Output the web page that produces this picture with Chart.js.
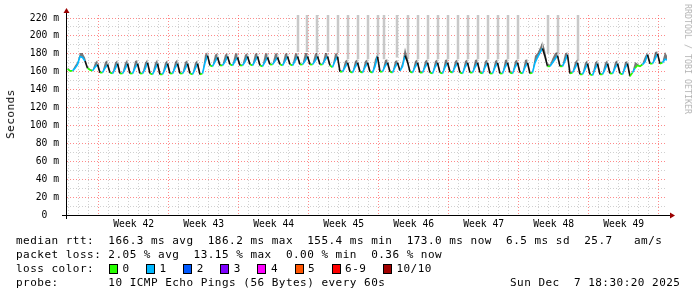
<!DOCTYPE html>
<html>
<head>
<meta charset="utf-8">
<script src="https://cdn.jsdelivr.net/npm/chart.js@4"></script>
<style>
  body { margin: 0; background: #fff; }
  #wrap { position: relative; width: 697px; height: 297px; }
  #wrap canvas { position: absolute; left: 0; top: 0; }
  .t { position: absolute; font-family: 'DejaVu Sans Mono', monospace; font-size: 11px; letter-spacing: 0.48px;
       white-space: pre; line-height: 14px; color: #000; }
  .sw { position: absolute; width: 7px; height: 8px; border: 1px solid #000; }
</style>
</head>
<body>
<div id="wrap">
  <canvas id="c" width="697" height="297"></canvas>
  <div class="t" style="left:11px;top:114px;transform:translate(-50%,-50%) rotate(-90deg)">Seconds</div>
  <div class="t" style="left:688px;top:59px;font-size:8.3px;letter-spacing:0;color:#b4b4b4;transform:translate(-50%,-50%) rotate(90deg)">RRDTOOL / TOBI OETIKER</div>
  <div class="t" style="left:16px;top:234px">median rtt:  166.3 ms avg  186.2 ms max  155.4 ms min  173.0 ms now  6.5 ms sd  25.7   am/s</div>
  <div class="t" style="left:16px;top:248px">packet loss: 2.05 % avg  13.15 % max  0.00 % min  0.36 % now</div>
  <div class="t" style="left:16px;top:262px">loss color:</div>
  <div class="t" style="left:16px;top:276px">probe:       10 ICMP Echo Pings (56 Bytes) every 60s</div>
  <div class="t" style="left:510px;top:276px">Sun Dec  7 18:30:20 2025</div>
</div>
<script>
// samples every 6 hours, x in days from the left edge of the graph
const sampleStart = 0.05;
const sampleStep = 0.25;

// median rtt in ms, one row per day
const medianMs = [
  163,161,161,164,  168,177,176,172,  164,162,161,165,  168,159,159,164,
  168,159,158,163,  169,158,158,163,  169,158,158,164,  169,158,158,163,
  170,158,157,163,  169,157,157,163,  169,158,158,164,  169,158,158,163,
  169,158,157,163,  169,157,158,170,  178,167,166,171,  176,167,167,171,
  177,168,167,172,  176,167,167,171,  177,168,167,172,  177,167,166,171,
  176,168,168,172,  176,168,167,172,  177,168,167,172,  177,168,168,172,
  177,168,168,172,  177,168,168,173,  177,167,165,172,  177,160,160,165,
  170,160,159,165,  170,160,159,165,  170,160,159,166,  177,160,160,166,
  170,160,159,165,  170,161,166,178,  171,160,159,165,  170,159,159,165,
  170,159,158,165,  170,159,158,165,  170,160,159,165,  170,159,158,165,
  170,159,159,165,  170,159,158,165,  170,158,158,165,  170,158,158,165,
  170,159,158,165,  170,159,158,165,  170,158,159,170,  176,181,186,177,
  166,166,170,174,  178,166,166,172,  179,158,159,164,  170,157,157,163,
  169,157,156,163,  169,157,157,163,  169,158,158,164,  169,158,157,164,
  169,155,159,164,  167,166,168,171,  179,169,169,174,  180,169,170,174,
  173
];

// how far the slowest pings of each sample reach above the median (ms)
const smokeUpMs = [
  2,1,1,3,  3,4,5,4,  2,1,1,5,  5,1,1,7,
  5,1,1,7,  4,1,1,7,  5,1,1,8,  4,1,1,7,
  4,1,1,7,  5,1,1,7,  4,1,1,7,  5,1,1,8,
  4,1,1,7,  4,1,1,9,  4,1,1,8,  5,1,1,8,
  4,1,1,8,  5,1,1,8,  4,1,1,8,  4,1,1,9,
  5,1,1,8,  5,1,1,8,  4,1,1,8,  4,1,1,9,
  4,1,1,8,  5,1,1,8,  4,1,1,8,  4,2,1,7,
  4,1,1,7,  4,1,1,7,  4,1,1,8,  3,1,1,7,
  4,1,1,7,  3,1,5,9,  4,1,1,7,  4,1,1,7,
  4,1,1,7,  4,1,1,8,  4,1,1,7,  4,1,1,7,
  4,1,1,8,  4,1,1,7,  4,1,1,7,  4,1,1,8,
  4,1,1,7,  4,1,1,8,  4,1,2,8,  5,6,8,7,
  3,2,5,7,  4,1,2,8,  3,1,1,7,  4,1,1,7,
  4,1,1,7,  4,1,1,7,  4,1,1,7,  4,1,1,7,
  3,1,1,7,  2,1,2,6,  3,1,1,8,  3,1,2,8,
  4
];

// lost pings per sample (of 10)
const lossCount = [
  1,0,0,1,  1,1,1,1,  1,0,0,1,  1,0,0,1,
  1,0,0,1,  1,0,0,1,  1,0,0,1,  1,0,0,1,
  1,0,0,1,  1,0,0,1,  1,0,0,1,  1,0,0,1,
  1,0,0,1,  1,0,0,1,  1,0,0,1,  1,0,0,1,
  1,0,0,1,  1,0,0,1,  1,0,0,1,  1,0,0,1,
  1,0,0,1,  1,0,0,1,  1,0,0,1,  1,0,0,1,
  1,0,0,1,  1,0,0,1,  1,0,0,1,  1,0,0,1,
  1,0,0,1,  1,0,0,1,  1,0,0,1,  1,0,0,1,
  1,0,0,1,  1,0,1,1,  1,0,0,1,  1,0,0,1,
  1,0,0,1,  1,0,0,1,  1,0,0,1,  1,0,0,1,
  1,0,0,1,  1,0,0,1,  1,0,0,1,  1,0,0,1,
  1,0,0,1,  1,0,0,1,  1,0,0,1,  1,1,1,1,
  0,0,1,1,  1,0,0,1,  1,0,0,1,  1,0,0,1,
  1,0,0,1,  1,0,0,1,  1,0,0,1,  1,0,0,1,
  1,0,0,1,  0,0,0,1,  1,0,0,1,  1,0,0,1,
  1
];

// single very slow pings that go off the top of the graph
const spikeDays = [23.1, 24.0, 25.0, 26.1, 27.1, 28.1, 29.1, 30.1, 31.1, 31.7, 33.0, 34.1, 35.1,
  36.1, 37.1, 38.1, 39.1, 40.1, 41.1, 42.1, 43.1, 44.1, 45.1, 48.1, 49.1, 51.1];
const spikeFromMs = [182, 182, 182, 182, 181, 174, 174, 174, 178, 174, 176, 174, 174,
  174, 174, 174, 174, 174, 174, 174, 174, 174, 174, 180, 180, 172];

const weekLabels = ['Week 42', 'Week 43', 'Week 44', 'Week 45', 'Week 46', 'Week 47', 'Week 48', 'Week 49'];
const yLabels = ['0  ', '20 m', '40 m', '60 m', '80 m', '100 m', '120 m', '140 m', '160 m', '180 m', '200 m', '220 m'];
const lossLabels = ['0', '1', '2', '3', '4', '5', '6-9', '10/10'];
const lossColors = ['#26ff00', '#00b8ff', '#0059ff', '#7e00ff', '#ff00ff', '#ff5500', '#ff0000', '#a10000'];

const yMax = 223.4;
const axisDays = 60;
const firstDayLine = 0.17;
const firstWeekLine = 3.17;

// loss color legend
const wrap = document.getElementById('wrap');
let lx = 109;
lossLabels.forEach((lab, i) => {
  const sw = document.createElement('div');
  sw.className = 'sw';
  sw.style.left = lx + 'px';
  sw.style.top = '264px';
  sw.style.background = lossColors[i];
  wrap.appendChild(sw);
  const tx = document.createElement('div');
  tx.className = 't';
  tx.style.left = (lx + 13.5) + 'px';
  tx.style.top = '262px';
  tx.textContent = lab;
  wrap.appendChild(tx);
  lx += 30 + 7.1 * lab.length;
});

const xAt = i => sampleStart + sampleStep * i;
const medianPts = medianMs.map((v, i) => ({x: xAt(i), y: v}));
const smokePts = medianMs.map((v, i) => ({x: xAt(i), y: v + smokeUpMs[i]}));
const spikePts = [];
spikeDays.forEach((d, i) => {
  spikePts.push({x: d, y: spikeFromMs[i]}, {x: d, y: yMax}, {x: d, y: null});
});

const xTicks = [];
for (let k = 0; firstDayLine + k <= axisDays; k++) {
  xTicks.push({value: firstDayLine + k, kind: (k >= 3 && (k - 3) % 7 === 0) ? 'major' : 'minor'});
}
weekLabels.forEach((w, i) => xTicks.push({value: firstWeekLine + 3.5 + 7 * i, kind: 'label', week: w}));
xTicks.sort((a, b) => a.value - b.value);

const gridMinor = 'rgba(150,150,150,0.45)';
const gridMajor = 'rgba(255,40,40,0.55)';
const monoFont = {family: 'DejaVu Sans Mono', size: 9.7};

const axisArrows = {
  id: 'axisArrows',
  afterDraw(chart) {
    const {ctx, chartArea: a} = chart;
    ctx.save();
    ctx.strokeStyle = '#000';
    ctx.lineWidth = 1;
    ctx.beginPath();
    ctx.moveTo(a.left - 0.5, a.top - 2);
    ctx.lineTo(a.left - 0.5, a.bottom + 4);
    ctx.moveTo(a.left - 5, a.bottom + 0.5);
    ctx.lineTo(a.right + 3, a.bottom + 0.5);
    ctx.stroke();
    ctx.fillStyle = '#9b0000';
    ctx.beginPath();
    ctx.moveTo(a.left - 0.5, a.top - 7);
    ctx.lineTo(a.left - 3.5, a.top - 2);
    ctx.lineTo(a.left + 2.5, a.top - 2);
    ctx.fill();
    ctx.beginPath();
    ctx.moveTo(a.right + 8, a.bottom + 0.5);
    ctx.lineTo(a.right + 3, a.bottom - 2.5);
    ctx.lineTo(a.right + 3, a.bottom + 3.5);
    ctx.fill();
    ctx.restore();
  }
};

new Chart(document.getElementById('c'), {
  type: 'line',
  data: {
    datasets: [
      {
        label: 'median',
        data: medianPts,
        order: 0,
        borderWidth: 1.6,
        pointRadius: 0,
        clip: 0,
        segment: {
          borderColor: c => c.p1.parsed.y < c.p0.parsed.y - 4 ? '#111' : lossColors[lossCount[c.p1DataIndex]]
        }
      },
      {
        label: 'smoke',
        data: smokePts,
        order: 1,
        borderWidth: 0,
        pointRadius: 0,
        clip: 0,
        backgroundColor: 'rgba(30,30,30,0.6)',
        fill: '-1'
      },
      {
        label: 'spikes',
        data: spikePts,
        order: 2,
        borderWidth: 2.5,
        borderColor: '#c8c8c8',
        pointRadius: 0,
        spanGaps: false,
        clip: 0
      }
    ]
  },
  options: {
    responsive: false,
    animation: false,
    layout: {padding: {left: 0, top: 15, right: 30, bottom: 0}},
    plugins: {legend: {display: false}, tooltip: {enabled: false}},
    scales: {
      x: {
        type: 'linear',
        min: 0,
        max: axisDays,
        afterBuildTicks: s => { s.ticks = xTicks.map(t => ({...t})); },
        afterFit: s => { s.height = 82; },
        ticks: {
          autoSkip: false,
          maxRotation: 0,
          padding: 4,
          color: '#000',
          font: monoFont,
          callback: (v, i, ticks) => ticks[i].week || ''
        },
        grid: {
          drawTicks: false,
          color: c => c.tick.kind === 'label' ? 'rgba(0,0,0,0)' : (c.tick.kind === 'major' ? gridMajor : gridMinor)
        },
        border: {display: false, dash: [1, 2]}
      },
      y: {
        min: 0,
        max: yMax,
        afterBuildTicks: s => {
          const t = [];
          for (let v = 0; v <= 220; v += 10) t.push({value: v});
          s.ticks = t;
        },
        afterFit: s => { s.width = 67; },
        ticks: {
          autoSkip: false,
          padding: 8,
          color: '#000',
          font: monoFont,
          callback: v => v % 20 === 0 ? yLabels[v / 20] : ''
        },
        grid: {
          drawTicks: false,
          color: c => c.tick.value % 20 === 0 ? gridMajor : gridMinor
        },
        border: {display: false, dash: [1, 2]}
      }
    }
  },
  plugins: [axisArrows]
});
</script>
</body>
</html>
